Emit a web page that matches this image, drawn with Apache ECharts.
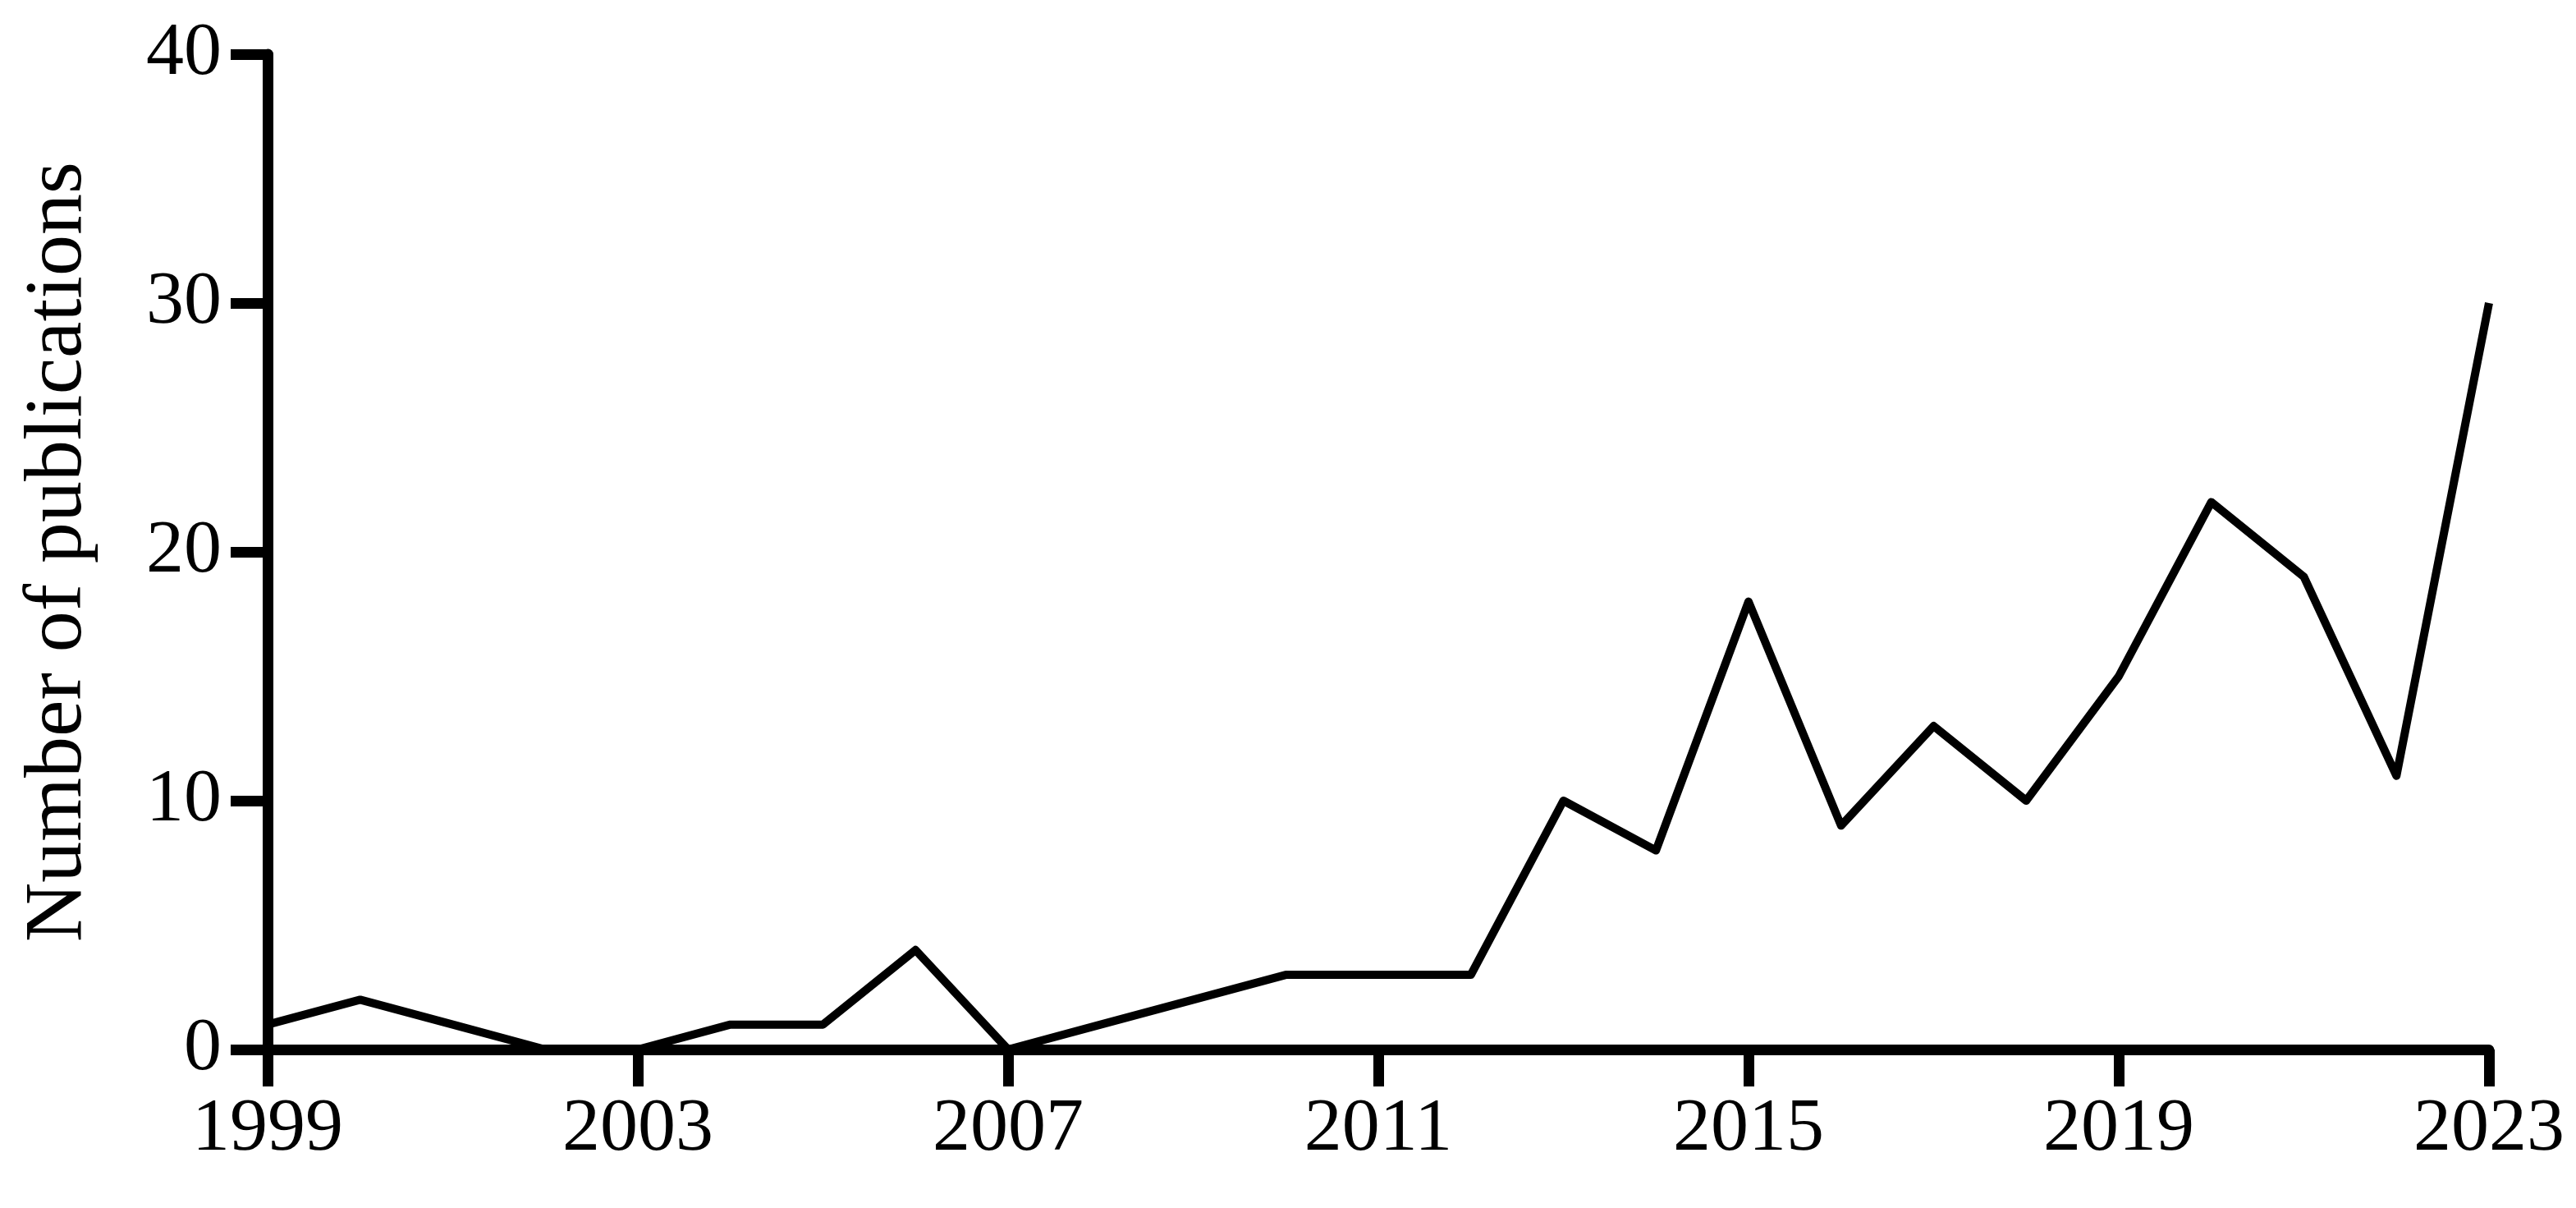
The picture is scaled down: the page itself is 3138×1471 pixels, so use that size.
<!DOCTYPE html>
<html style="height: 100%">
<head>
	<meta charset="utf-8">
	<script src="https://cdn.jsdelivr.net/npm/echarts@6/dist/echarts.min.js"></script>
</head>
<body style="height: 100%; margin: 0; background: #fff">
	<div id="container" style="width: 3138px; height: 1471px"></div>
	<script type="text/javascript">
		let years = [];
		for (let y = 1999; y <= 2023; y++) years.push(String(y));
		let publications = [1, 2, 1, 0, 0, 1, 1, 4, 0, 1, 2, 3, 3, 3, 10, 8, 18, 9, 13, 10, 15, 22, 19, 11, 30];
		let yTicks = [0, 10, 20, 30, 40];

		let font = 'Liberation Serif';
		let dom = document.getElementById('container');
		let myChart = echarts.init(dom);

		let option = {
			animation: false,
			backgroundColor: '#fff',
			grid: { left: 326, right: 106, top: 66, bottom: 193 },
			xAxis: {
				type: 'category',
				data: years,
				boundaryGap: false,
				axisLine: { lineStyle: { color: '#000', width: 13 } },
				axisTick: { interval: 3, length: 45, lineStyle: { color: '#000', width: 13 } },
				axisLabel: { interval: 3, margin: 52, color: '#000', fontFamily: font, fontSize: 92 },
				splitLine: { show: false }
			},
			yAxis: {
				type: 'value',
				min: yTicks[0],
				max: yTicks[yTicks.length - 1],
				interval: 10,
				name: 'Number of publications',
				nameLocation: 'middle',
				nameGap: 204,
				nameTextStyle: { color: '#000', fontFamily: font, fontSize: 100 },
				axisLine: { show: true, lineStyle: { color: '#000', width: 13 } },
				axisTick: { show: true, length: 45, lineStyle: { color: '#000', width: 13 } },
				axisLabel: { margin: 56, color: '#000', fontFamily: font, fontSize: 92 },
				splitLine: { show: false }
			},
			series: [{
				type: 'line',
				data: publications,
				showSymbol: false,
				symbol: 'none',
				lineStyle: { color: '#000', width: 10, join: 'round' }
			}]
		};
		myChart.setOption(option);
	</script>
</body>
</html>
